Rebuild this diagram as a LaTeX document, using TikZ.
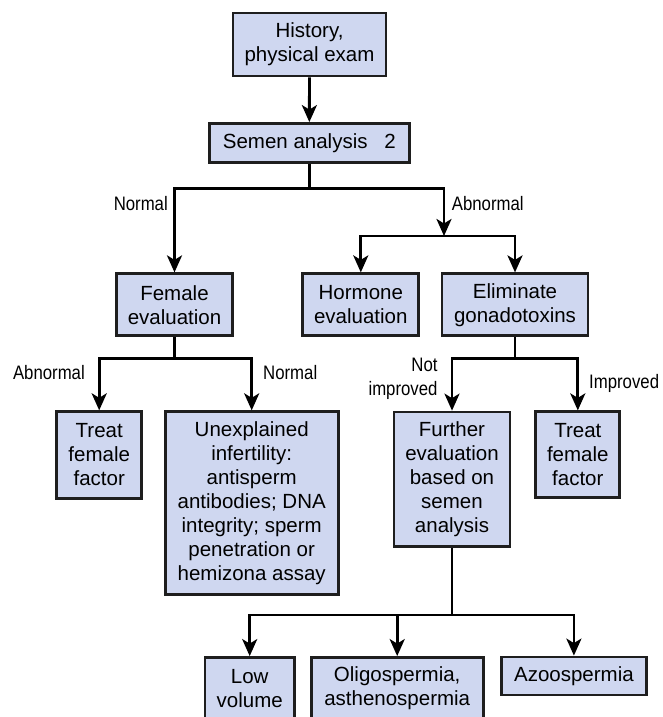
\documentclass[tikz,border=0pt]{standalone}
\usepackage{fontspec}
\setmainfont{Liberation Sans}
\newfontfamily\narrowfont[FakeStretch=0.86]{Liberation Sans}
\usetikzlibrary{arrows.meta}
\definecolor{boxfill}{RGB}{207,215,240}
\definecolor{boxline}{RGB}{30,30,30}
\tikzset{
  box/.style={
    draw=boxline,
    fill=boxfill,
    line width=2.8pt,
    align=center,
    inner sep=0pt,
    font=\fontsize{20.5}{24}\selectfont
  },
  flow/.style={
    -{Stealth[length=17pt, width=15pt, inset=4.5pt]},
    line width=2.8pt
  },
  link/.style={
    -,
    line width=2.8pt
  },
  branch label/.style={
    font=\narrowfont\fontsize{19.5}{24}\selectfont,
    inner sep=0pt
  }
}

\begin{document}
\begin{tikzpicture}[x=1pt, y=-1pt]
    \useasboundingbox (0,0) rectangle (662,717);
    \clip (0,0) rectangle (662,717);

    % 1. history and semen analysis
    \node[box, minimum width=153pt, minimum height=63pt] (history) at (309.5,44.5) {History,\\physical exam};
    \node[box, minimum width=200pt, minimum height=39pt] (semen) at (309.3,143) {Semen analysis \hspace{11pt}2};
    \draw[flow] (history) -- (semen);

    % 2. normal / abnormal semen
    \coordinate (split) at (309.3,188.3);
    \coordinate (abnormal) at (444,236);
    \node[box, minimum width=116pt, minimum height=62pt] (female) at (174.5,304.8) {Female\\evaluation};
    \node[box, minimum width=116pt, minimum height=62pt] (hormone) at (360.8,304.8) {Hormone\\evaluation};
    \node[box, minimum width=146pt, minimum height=62pt] (toxins) at (515,304.8) {Eliminate\\gonadotoxins};
    \draw[link] (semen) -- (split);
    \draw[flow] (split) -| (female);
    \draw[flow] (split) -| (abnormal);
    \draw[flow] (abnormal) -| (hormone);
    \draw[flow] (abnormal) -| (toxins);
    \node[branch label, anchor=base east] (normal1) at (168,210) {Normal};
    \node[branch label, anchor=base west] (abnormal1) at (451.7,210) {Abnormal};

    % 3. female side
    \coordinate (femsplit) at (174.5,358.3);
    \node[box, minimum width=85pt, minimum height=86.5pt] (treatleft) at (99.2,455) {Treat\\female\\factor};
    \node[box, minimum width=173pt, minimum height=182.5pt] (unexplained) at (251.7,503) {Unexplained\\infertility:\\antisperm\\antibodies; DNA\\integrity; sperm\\penetration or\\hemizona assay};
    \draw[link] (female) -- (femsplit);
    \draw[flow] (femsplit) -| (treatleft);
    \draw[flow] (femsplit) -| (unexplained);
    \node[branch label, anchor=base east] (abnormal2) at (85,379.3) {Abnormal};
    \node[branch label, anchor=base west] (normal2) at (263,379.3) {Normal};

    % 4. after gonadotoxins
    \coordinate (toxsplit) at (515,358.3);
    \node[box, minimum width=116pt, minimum height=134.5pt] (further) at (452,479.3) {Further\\evaluation\\based on\\semen\\analysis};
    \node[box, minimum width=84pt, minimum height=86pt] (treatright) at (577.8,454.8) {Treat\\female\\factor};
    \draw[link] (toxins) -- (toxsplit);
    \draw[flow] (toxsplit) -| (further);
    \draw[flow] (toxsplit) -| (treatright);
    \node[branch label, anchor=north east, align=right] (notimproved) at (437.7,358) {Not\\improved};
    \node[branch label, anchor=base west] (improved) at (589,388.3) {Improved};

    % 5. semen findings
    \coordinate (semsplit) at (452,615);
    \node[box, minimum width=89.5pt, minimum height=62pt] (low) at (249.7,688.5) {Low\\volume};
    \node[box, minimum width=172pt, minimum height=62pt] (oligo) at (397.2,688.5) {Oligospermia,\\asthenospermia};
    \node[box, minimum width=145.5pt, minimum height=38pt] (azoo) at (573.9,676) {Azoospermia};
    \draw[link] (further) -- (semsplit);
    \draw[flow] (semsplit) -| (low);
    \draw[flow] (semsplit) -| (oligo);
    \draw[flow] (semsplit) -| (azoo);

\end{tikzpicture}
\end{document}
